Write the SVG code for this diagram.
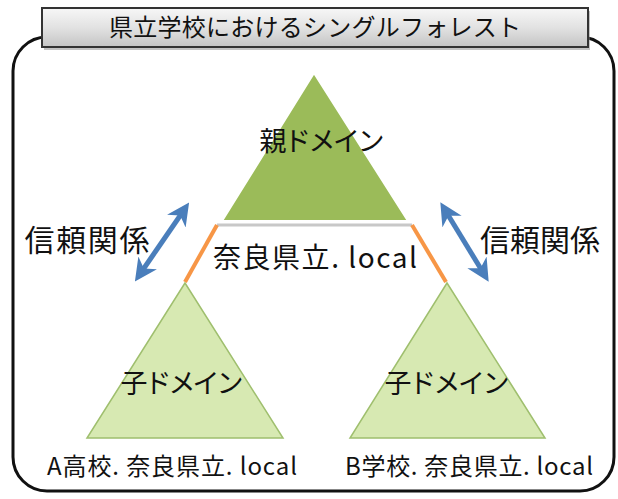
<svg xmlns="http://www.w3.org/2000/svg" width="618" height="499" viewBox="0 0 618 499">
<defs>
<linearGradient id="tg" x1="0" y1="0" x2="0" y2="1">
<stop offset="0" stop-color="#f7f7f7"/>
<stop offset="0.5" stop-color="#e2e2e2"/>
<stop offset="1" stop-color="#c4c4c4"/>
</linearGradient>
<marker id="ah" viewBox="0 0 10 10" refX="6" refY="5" markerWidth="4.5" markerHeight="4.5" orient="auto-start-reverse" markerUnits="strokeWidth">
<path d="M0,0 L10,5 L0,10 L3,5 Z" fill="#4a7ebb"/>
</marker>
</defs>
<style>
text{font-family:"Noto Sans CJK JP","Noto Sans",sans-serif;fill:#111;text-anchor:middle}
.child{fill:#d7e9b2;stroke:#9fbf6e;stroke-width:1.5}
.orange{stroke:#f79646;stroke-width:4;fill:none}
.arrow{stroke:#4a7ebb;stroke-width:5;fill:none;marker-start:url(#ah);marker-end:url(#ah)}
</style>
<rect width="618" height="499" fill="#fff"/>
<g id="frame">
<rect x="13" y="37" width="601" height="454" rx="34" ry="34" fill="none" stroke="#111" stroke-width="3"/>
</g>
<g id="title">
<rect x="44" y="11" width="546" height="39" fill="#888" opacity="0.5"/>
<rect x="42" y="8" width="546" height="39" fill="url(#tg)" stroke="#333" stroke-width="2"/>
<text x="315" y="36" font-size="24" textLength="412">県立学校におけるシングルフォレスト</text>
</g>
<g id="connectors">
<line x1="217" y1="225" x2="412" y2="225" stroke="#c8c8c8" stroke-width="3"/>
<line class="orange" x1="217" y1="225" x2="185" y2="282"/>
<line class="orange" x1="412" y1="225" x2="446" y2="282"/>
<line class="arrow" x1="140" y1="274" x2="184" y2="210"/>
<line class="arrow" x1="445" y1="210" x2="484" y2="274"/>
</g>
<g id="parent">
<polygon points="314,73 222,221 408,221" fill="#9bbb59" stroke="#fff" stroke-width="2"/>
<text x="322" y="151" font-size="27" textLength="125">親ドメイン</text>
</g>
<g id="forest-label">
<text x="315" y="268" font-size="28" textLength="204">奈良県立. local</text>
</g>
<g id="childA">
<polygon class="child" points="185,283 87,438 283,438"/>
<text x="182" y="393" font-size="27" textLength="123">子ドメイン</text>
<text x="172" y="475" font-size="24" textLength="250">A高校. 奈良県立. local</text>
</g>
<g id="childB">
<polygon class="child" points="447,283 350,438 545,438"/>
<text x="447" y="393" font-size="27" textLength="125">子ドメイン</text>
<text x="469" y="475" font-size="24" textLength="248">B学校. 奈良県立. local</text>
</g>
<g id="trust-left">
<text x="87" y="251" font-size="30" textLength="125">信頼関係</text>
</g>
<g id="trust-right">
<text x="540" y="251" font-size="30" textLength="120">信頼関係</text>
</g>
</svg>
